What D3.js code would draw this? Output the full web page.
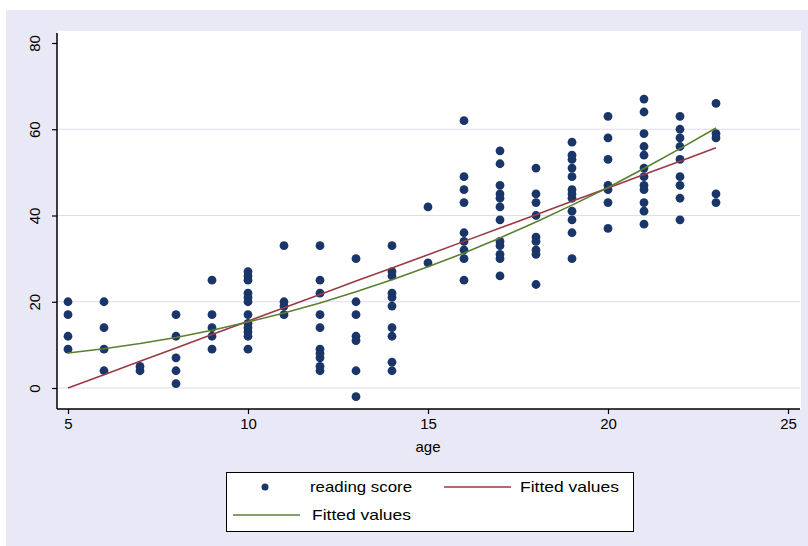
<!DOCTYPE html>
<html>
<head>
<meta charset="utf-8">
<script src="https://cdn.jsdelivr.net/npm/d3@7/dist/d3.min.js"></script>
<style>
  html, body { margin: 0; padding: 0; background: #ffffff; }
  svg { display: block; }
  text { font-family: "Liberation Sans", Arial, sans-serif; fill: #000; }
</style>
</head>
<body>
<svg id="chart" width="808" height="546"></svg>
<script>
// ---- data ----
const ages = [5,6,7,8,9,10,11,12,13,14,15,16,17,18,19,20,21,22,23];
const readingScores = [
  [20,17,12,9],
  [20,14,9,4],
  [5,4],
  [17,12,7,4,1],
  [25,17,14,12,9],
  [27,26,25,22,21,20,17,15,14,13,12,9],
  [33,20,19,17],
  [33,25,22,17,14,9,8,7,5,4],
  [30,20,17,12,11,4,-2],
  [33,27,26,22,21,19,14,12,6,4],
  [42,29],
  [62,49,46,43,36,34,32,30,25],
  [55,52,47,45,44,42,39,34,33,31,30,26],
  [51,45,43,40,35,34,32,31,24],
  [57,54,53,51,49,46,45,44,41,39,36,30],
  [63,58,53,47,46,43,37],
  [67,64,59,56,54,51,49,47,46,43,41,38],
  [63,60,58,56,53,49,47,44,39],
  [66,59,58,45,43]
];
const fittedLinear = [0,3.1,6.2,9.3,12.4,15.5,18.6,21.7,24.8,27.8,30.9,34.0,37.1,40.2,43.3,46.4,49.5,52.6,55.7];
const fittedQuad   = [8.1,9.1,10.3,11.7,13.4,15.3,17.4,19.7,22.3,25.1,28.1,31.3,34.8,38.5,42.4,46.5,50.9,55.5,60.3];
const xTicks = [5,10,15,20,25];
const yTicks = [0,20,40,60,80];
const gridValues = [0,20,40,60];
const xTitle = "age";
const legendLabels = ["reading score","Fitted values","Fitted values"];

// ---- layout ----
const svg = d3.select("#chart");
const bg = "#e8e8f7";
const navy = "#1a3668";
const maroon = "#9a3a44";
const green = "#5a7f2f";

svg.append("rect").attr("x",6).attr("y",10).attr("width",802).attr("height",536).attr("fill",bg);
const plotL = 57, plotR = 801, plotT = 31, plotB = 409;
svg.append("rect").attr("x",plotL).attr("y",plotT).attr("width",plotR-plotL).attr("height",plotB-plotT).attr("fill","#fff");

const x = d3.scaleLinear().domain([5,25]).range([68,788]);
const y = d3.scaleLinear().domain([0,80]).range([388,43]);

// gridlines
svg.append("g").selectAll("line").data(gridValues).join("line")
  .attr("x1",plotL).attr("x2",plotR-1)
  .attr("y1",d=>y(d)).attr("y2",d=>y(d))
  .attr("stroke","#dcdcf2").attr("stroke-width",1.2);

// axes
const yAxis = d3.axisLeft(y).tickValues(yTicks).tickSize(5).tickFormat(d3.format("d"));
const gy = svg.append("g").attr("transform",`translate(${plotL},0)`).call(yAxis);
gy.select(".domain").attr("d",`M0,${plotT+2}V${plotB}`).attr("stroke","#000").attr("stroke-width",1.5);
gy.selectAll(".tick line").attr("stroke","#000").attr("stroke-width",1.2);
gy.selectAll(".tick text")
  .attr("font-size",15).attr("font-family","'Liberation Sans', Arial, sans-serif")
  .attr("text-anchor","middle").attr("x",0).attr("y",0)
  .attr("transform","translate(-17,0) rotate(-90)")
  .attr("dy","0");

const xAxis = d3.axisBottom(x).tickValues(xTicks).tickSize(5).tickFormat(d3.format("d"));
const gx = svg.append("g").attr("transform",`translate(0,${plotB})`).call(xAxis);
gx.select(".domain").attr("d",`M${plotL},0H${plotR-1}`).attr("stroke","#000").attr("stroke-width",1.5);
gx.selectAll(".tick line").attr("stroke","#000").attr("stroke-width",1.2);
gx.selectAll(".tick text").attr("font-size",15).attr("y",9).attr("dy","0.71em")
  .attr("font-family","'Liberation Sans', Arial, sans-serif");

svg.append("text").attr("x",x(15)).attr("y",452).attr("text-anchor","middle")
  .attr("font-size",15).text(xTitle);

// scatter points
const pts = [];
ages.forEach((a,i)=>readingScores[i].forEach(s=>pts.push({a,s})));
svg.append("g").selectAll("circle").data(pts).join("circle")
  .attr("cx",d=>x(d.a)).attr("cy",d=>y(d.s)).attr("r",4.4).attr("fill",navy);

// fitted lines
const line = d3.line().x((d,i)=>x(ages[i])).y(d=>y(d));
svg.append("path").datum(fittedLinear).attr("d",line).attr("fill","none")
  .attr("stroke",maroon).attr("stroke-width",1.6);
svg.append("path").datum(fittedQuad).attr("d",line).attr("fill","none")
  .attr("stroke",green).attr("stroke-width",1.6);

// legend
const lg = svg.append("g");
lg.append("rect").attr("x",226.5).attr("y",472.5).attr("width",407).attr("height",59)
  .attr("fill","#fff").attr("stroke","#000").attr("stroke-width",1);
lg.append("circle").attr("cx",265).attr("cy",487).attr("r",3.5).attr("fill",navy);
lg.append("text").attr("x",310).attr("y",492).attr("font-size",15)
  .attr("textLength",102).attr("lengthAdjust","spacingAndGlyphs").text(legendLabels[0]);
lg.append("line").attr("x1",444).attr("x2",511).attr("y1",487).attr("y2",487)
  .attr("stroke",maroon).attr("stroke-width",1.6);
lg.append("text").attr("x",520).attr("y",492).attr("font-size",15)
  .attr("textLength",99).attr("lengthAdjust","spacingAndGlyphs").text(legendLabels[1]);
lg.append("line").attr("x1",233).attr("x2",300).attr("y1",515).attr("y2",515)
  .attr("stroke",green).attr("stroke-width",1.6);
lg.append("text").attr("x",312).attr("y",520).attr("font-size",15)
  .attr("textLength",99).attr("lengthAdjust","spacingAndGlyphs").text(legendLabels[2]);
</script>
</body>
</html>
